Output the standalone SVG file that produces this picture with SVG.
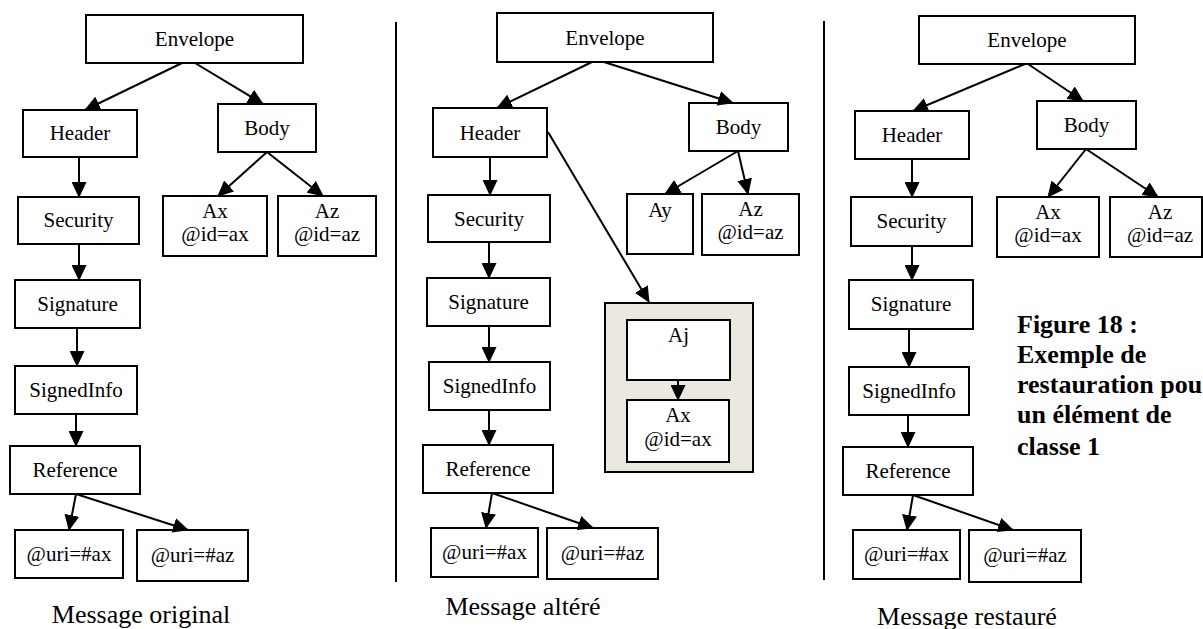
<svg xmlns="http://www.w3.org/2000/svg" width="1203" height="629" viewBox="0 0 1203 629">
<style>
.n rect{fill:#fff;stroke:#000;stroke-width:2}
.n text{font-family:"Liberation Serif","Times New Roman",serif;font-size:21px;fill:#000;text-anchor:middle}
.cap{font-family:"Liberation Serif","Times New Roman",serif;font-size:26px;fill:#000;text-anchor:middle}
.fig{font-family:"Liberation Serif","Times New Roman",serif;font-size:26px;font-weight:bold;fill:#000}
.e line{stroke:#000;stroke-width:2;marker-end:url(#ah)}
.sep{stroke:#000;stroke-width:2}
.box{fill:#ebe9df;stroke:#000;stroke-width:2}
</style>
<defs>
<marker id="ah" markerUnits="userSpaceOnUse" markerWidth="16" markerHeight="15" refX="15" refY="7.5" orient="auto" viewBox="0 0 16 15">
<path d="M0,0 L16,7.5 L0,15 z" fill="#000"/>
</marker>
</defs>
<rect width="1203" height="629" fill="#fff"/>
<g id="separators">
<line class="sep" x1="396" y1="22" x2="396" y2="582"/>
<line class="sep" x1="824" y1="21" x2="824" y2="580"/>
</g>
<!-- Panel 1 -->
<g id="p1-envelope" class="n"><rect x="86" y="15" width="217" height="48"/><text x="194.5" y="46">Envelope</text></g>
<g id="p1-header" class="n"><rect x="23" y="110" width="114" height="47"/><text x="80" y="140">Header</text></g>
<g id="p1-body" class="n"><rect x="218" y="104" width="98" height="48"/><text x="267" y="135">Body</text></g>
<g id="p1-security" class="n"><rect x="18" y="197" width="121" height="47"/><text x="78.5" y="227">Security</text></g>
<g id="p1-signature" class="n"><rect x="15" y="280" width="125" height="48"/><text x="77.5" y="311">Signature</text></g>
<g id="p1-signedinfo" class="n"><rect x="15" y="366" width="122" height="48"/><text x="76" y="397">SignedInfo</text></g>
<g id="p1-reference" class="n"><rect x="10" y="446" width="130" height="48"/><text x="75" y="477">Reference</text></g>
<g id="p1-uriax" class="n"><rect x="15" y="530" width="108" height="48"/><text x="69" y="561">@uri=#ax</text></g>
<g id="p1-uriaz" class="n"><rect x="137" y="530" width="111" height="51"/><text x="192.5" y="562">@uri=#az</text></g>
<g id="p1-ax" class="n"><rect x="163" y="196" width="104" height="60"/><text x="215" y="218">Ax</text><text x="215" y="241">@id=ax</text></g>
<g id="p1-az" class="n"><rect x="278" y="196" width="98" height="60"/><text x="327" y="218">Az</text><text x="327" y="241">@id=az</text></g>
<!-- Panel 2 -->
<g id="p2-envelope" class="n"><rect x="497" y="13" width="216" height="49"/><text x="605" y="45">Envelope</text></g>
<g id="p2-header" class="n"><rect x="433" y="108" width="114" height="49"/><text x="490" y="140">Header</text></g>
<g id="p2-body" class="n"><rect x="689" y="103" width="99" height="48"/><text x="738.5" y="134">Body</text></g>
<g id="p2-security" class="n"><rect x="428" y="195" width="122" height="47"/><text x="489" y="226">Security</text></g>
<g id="p2-signature" class="n"><rect x="427" y="278" width="123" height="48"/><text x="488.5" y="309">Signature</text></g>
<g id="p2-signedinfo" class="n"><rect x="429" y="362" width="121" height="48"/><text x="489.5" y="393">SignedInfo</text></g>
<g id="p2-reference" class="n"><rect x="423" y="445" width="130" height="48"/><text x="488" y="476">Reference</text></g>
<g id="p2-uriax" class="n"><rect x="431" y="528" width="107" height="49"/><text x="484.5" y="559">@uri=#ax</text></g>
<g id="p2-uriaz" class="n"><rect x="547" y="528" width="111" height="51"/><text x="602.5" y="560">@uri=#az</text></g>
<g id="p2-ay" class="n"><rect x="627" y="194" width="66" height="60"/><text x="660" y="217">Ay</text></g>
<g id="p2-az" class="n"><rect x="702" y="194" width="97" height="61"/><text x="750.5" y="216">Az</text><text x="750.5" y="239">@id=az</text></g>
<g id="p2-container"><rect class="box" x="605" y="303" width="148" height="169"/></g>
<g id="p2-aj" class="n"><rect x="627" y="320" width="103" height="60"/><text x="678.5" y="342">Aj</text></g>
<g id="p2-ax" class="n"><rect x="627" y="400" width="102" height="62"/><text x="678" y="422">Ax</text><text x="678" y="446">@id=ax</text></g>
<!-- Panel 3 -->
<g id="p3-envelope" class="n"><rect x="919" y="16" width="216" height="48"/><text x="1027" y="47">Envelope</text></g>
<g id="p3-header" class="n"><rect x="855" y="111" width="114" height="48"/><text x="912" y="142">Header</text></g>
<g id="p3-body" class="n"><rect x="1037" y="101" width="99" height="48"/><text x="1086.5" y="132">Body</text></g>
<g id="p3-security" class="n"><rect x="851" y="197" width="121" height="49"/><text x="911.5" y="228">Security</text></g>
<g id="p3-signature" class="n"><rect x="849" y="280" width="124" height="49"/><text x="911" y="311">Signature</text></g>
<g id="p3-signedinfo" class="n"><rect x="849" y="367" width="120" height="48"/><text x="909" y="398">SignedInfo</text></g>
<g id="p3-reference" class="n"><rect x="843" y="447" width="130" height="48"/><text x="908" y="478">Reference</text></g>
<g id="p3-uriax" class="n"><rect x="853" y="530" width="107" height="49"/><text x="906.5" y="561">@uri=#ax</text></g>
<g id="p3-uriaz" class="n"><rect x="969" y="530" width="112" height="52"/><text x="1025" y="562">@uri=#az</text></g>
<g id="p3-ax" class="n"><rect x="997" y="197" width="102" height="60"/><text x="1048" y="219">Ax</text><text x="1048" y="242">@id=ax</text></g>
<g id="p3-az" class="n"><rect x="1110" y="197" width="92" height="60"/><text x="1160" y="219">Az</text><text x="1160" y="242">@id=az</text></g>
<g id="connectors" class="e">
<line x1="182" y1="63" x2="85" y2="110"/>
<line x1="195" y1="63" x2="263" y2="104"/>
<line x1="79" y1="157" x2="79" y2="197"/>
<line x1="79" y1="244" x2="79" y2="280"/>
<line x1="77" y1="328" x2="77" y2="366"/>
<line x1="76" y1="414" x2="76" y2="446"/>
<line x1="76" y1="494" x2="69" y2="530"/>
<line x1="76" y1="494" x2="188" y2="530"/>
<line x1="267" y1="152" x2="218" y2="196"/>
<line x1="267" y1="152" x2="323" y2="196"/>
<line x1="592" y1="62" x2="497" y2="108"/>
<line x1="604" y1="62" x2="733" y2="103"/>
<line x1="490" y1="157" x2="490" y2="195"/>
<line x1="489" y1="242" x2="489" y2="278"/>
<line x1="489" y1="326" x2="489" y2="362"/>
<line x1="489" y1="410" x2="489" y2="445"/>
<line x1="492" y1="493" x2="486" y2="528"/>
<line x1="492" y1="493" x2="593" y2="528"/>
<line x1="738" y1="151" x2="665" y2="194"/>
<line x1="738" y1="151" x2="748" y2="194"/>
<line x1="548" y1="132" x2="649" y2="302"/>
<line x1="678" y1="380" x2="678" y2="400"/>
<line x1="1025" y1="64" x2="913" y2="111"/>
<line x1="1028" y1="64" x2="1083" y2="101"/>
<line x1="912" y1="159" x2="912" y2="197"/>
<line x1="912" y1="246" x2="912" y2="280"/>
<line x1="909" y1="329" x2="909" y2="367"/>
<line x1="908" y1="415" x2="908" y2="447"/>
<line x1="913" y1="495" x2="907" y2="530"/>
<line x1="913" y1="495" x2="1013" y2="530"/>
<line x1="1086" y1="149" x2="1048" y2="197"/>
<line x1="1086" y1="149" x2="1158" y2="197"/>
</g>
<g id="captions">
<text class="cap" x="141" y="623">Message original</text>
<text class="cap" x="523" y="615">Message altéré</text>
<text class="cap" x="967" y="625">Message restauré</text>
</g>
<g id="figure-title" class="fig">
<text x="1017" y="333">Figure 18 :</text>
<text x="1017" y="363">Exemple de</text>
<text x="1017" y="393">restauration pou</text>
<text x="1017" y="423">un élément de</text>
<text x="1017" y="455">classe 1</text>
</g>
</svg>
